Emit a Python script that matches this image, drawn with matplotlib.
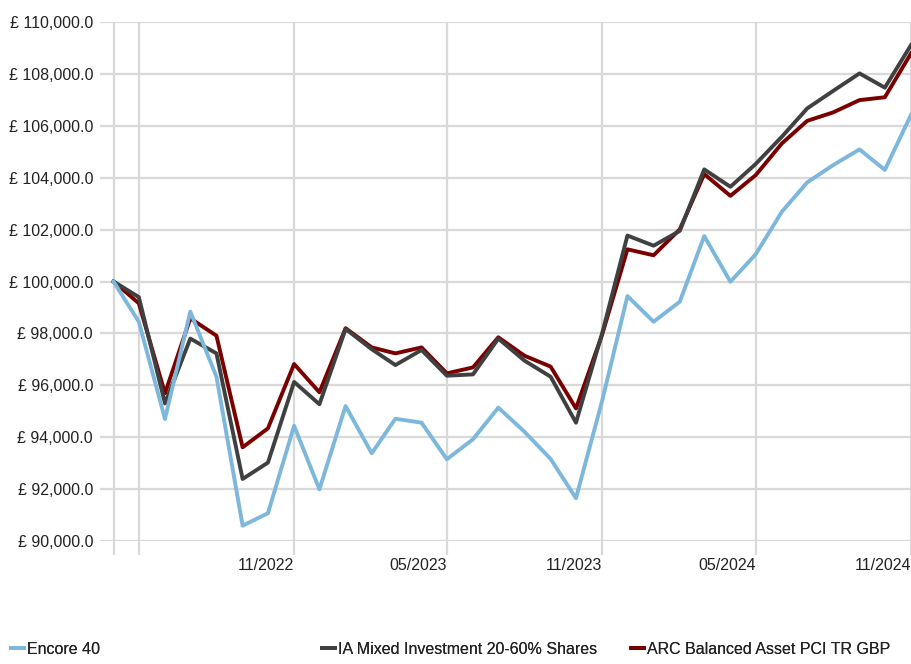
import pandas as pd
import matplotlib.pyplot as plt
from matplotlib.ticker import FuncFormatter
from matplotlib.transforms import ScaledTranslation

plt.rcParams["font.family"] = ["Liberation Sans", "DejaVu Sans"]

dates = pd.date_range("2022-04-01", "2024-11-01", freq="MS")

encore_40 = [100000, 98450, 94700, 98840, 96330, 90590, 91070, 94440,
             91990, 95200, 93380, 94710, 94560, 93150, 93920, 95140,
             94210, 93160, 91650, 95400, 99440, 98450, 99220, 101750,
             99990, 101050, 102690, 103820, 104490, 105090, 104300, 106420]
ia_mixed = [100000, 99400, 95300, 97800, 97230, 92390, 93020, 96130,
            95270, 98170, 97390, 96780, 97360, 96370, 96420, 97800,
            96950, 96330, 94560, 98000, 101770, 101380, 101950, 104320,
            103650, 104530, 105580, 106670, 107350, 108020, 107470, 109110]
arc_balanced = [100000, 99160, 95690, 98580, 97910, 93610, 94340, 96820,
                95730, 98200, 97460, 97230, 97460, 96460, 96690, 97850,
                97140, 96720, 95110, 97950, 101240, 101010, 102010, 104140,
                103300, 104100, 105320, 106190, 106520, 106990, 107100, 108790]

grid_dates = pd.to_datetime(["2022-04-01", "2022-05-01", "2022-11-01", "2023-05-01",
                             "2023-11-01", "2024-05-01", "2024-11-01"])
grid_labels = ["", "", "11/2022", "05/2023", "11/2023", "05/2024", "11/2024"]

fig = plt.figure(figsize=(9.11, 6.64), dpi=100)
ax = fig.add_axes([100 / 911, 1 - 541 / 664, 811 / 911, 519 / 664])

ax.plot(dates, arc_balanced, color="#7a0000", lw=2.8, zorder=3,
        label="ARC Balanced Asset PCI TR GBP")
ax.plot(dates, ia_mixed, color="#404040", lw=2.8, zorder=4,
        label="IA Mixed Investment 20-60% Shares")
ax.plot(dates, encore_40, color="#7db7db", lw=2.8, zorder=5, label="Encore 40")

ax.set_ylim(90000, 110000)
ax.set_yticks(range(90000, 110001, 2000))
ax.yaxis.set_major_formatter(FuncFormatter(lambda v, p: f"£ {v:,.1f}"))
ax.set_xlim(dates[0] - pd.Timedelta(days=16), dates[-1])
ax.set_xticks(grid_dates)
ax.set_xticklabels(grid_labels, ha="right")
offset = ScaledTranslation(-5 / 100, 0, fig.dpi_scale_trans)
for lbl in ax.get_xticklabels():
    lbl.set_transform(lbl.get_transform() + offset)

ax.grid(True, color="#d9d9d9", lw=1.6)
ax.set_axisbelow(True)
for s in ax.spines.values():
    s.set_visible(False)
ax.tick_params(axis="y", length=0, pad=5, labelsize=11.5, colors="#222222")
ax.tick_params(axis="x", length=10, width=1.6, color="#d9d9d9", pad=2,
               labelsize=11.5, labelcolor="#222222")

handles, labels = ax.get_legend_handles_labels()
order = {"Encore 40": 0, "IA Mixed Investment 20-60% Shares": 1,
         "ARC Balanced Asset PCI TR GBP": 2}
xpos = [0 / 911, 311 / 911, 620 / 911]
for h, l in zip(handles, labels):
    i = order[l]
    leg = fig.legend([h], [l], loc="lower left", bbox_to_anchor=(xpos[i], -0.006),
                     frameon=False, fontsize=11.5, handlelength=0.8,
                     handletextpad=0.2, borderpad=0.2)
    for t in leg.get_texts():
        t.set_color("#222222")
    fig.add_artist(leg)

fig.savefig("out.png", dpi=100)
